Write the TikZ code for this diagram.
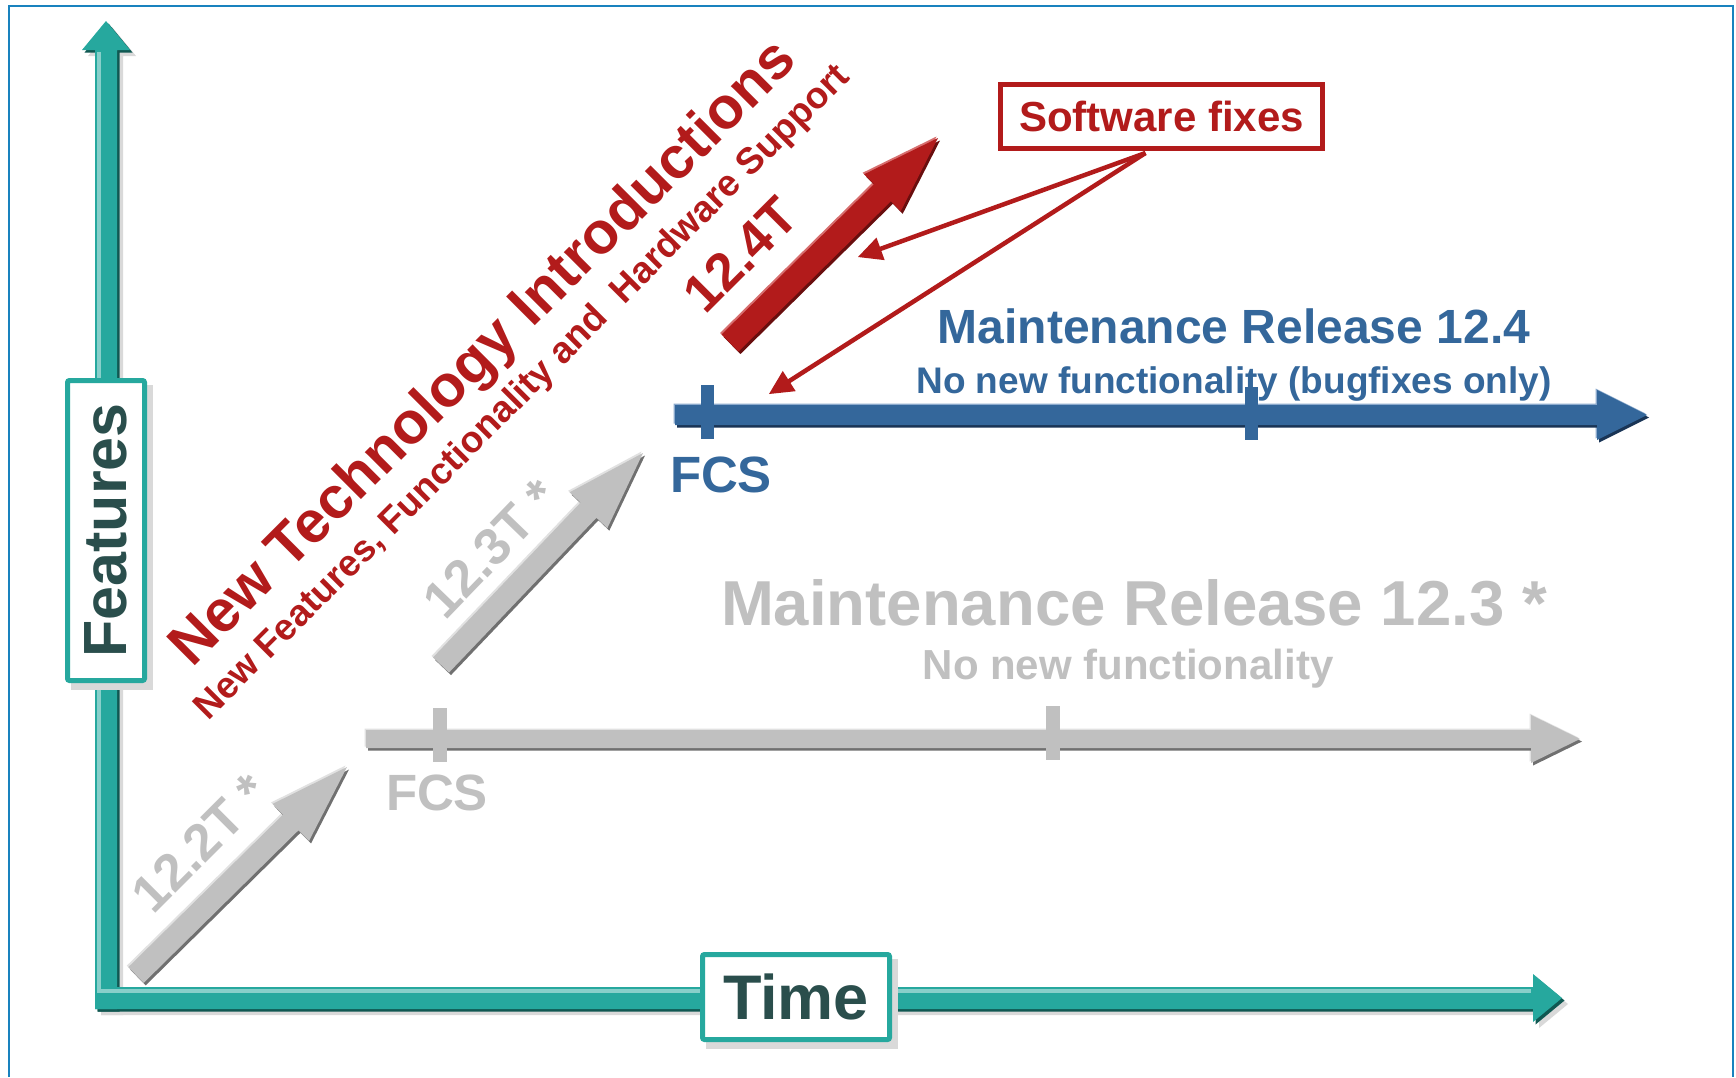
\documentclass[tikz,border=0pt]{standalone}
\usepackage{fontspec}
\setmainfont{Liberation Sans}
\usetikzlibrary{calc}
\definecolor{tealA}{RGB}{38,168,158}
\definecolor{tealD}{RGB}{16,88,82}
\definecolor{tealT}{RGB}{42,78,76}
\definecolor{redA}{RGB}{178,27,27}
\definecolor{redL}{RGB}{215,110,110}
\definecolor{redD}{RGB}{105,14,14}
\definecolor{blueA}{RGB}{52,103,155}
\definecolor{blueL}{RGB}{140,170,205}
\definecolor{blueD}{RGB}{25,52,85}
\definecolor{grayA}{RGB}{192,192,192}
\definecolor{grayL}{RGB}{225,225,225}
\definecolor{grayD}{RGB}{112,112,112}
\definecolor{frameC}{RGB}{25,130,190}
\newcommand\fsz[1]{\fontsize{#1}{#1}\selectfont}
% polygon arrow: tail, tip, shaft half width, head half width, head length, fill options
\newcommand\fatpoly[6]{%
  \coordinate (fpH) at ($(#2)!#5!(#1)$);
  \fill[#6] ($(#1)!#3!90:(#2)$) -- ($(fpH)!#3!90:(#2)$) -- ($(fpH)!#4!90:(#2)$) -- (#2)
    -- ($(fpH)!#4!-90:(#2)$) -- ($(fpH)!#3!-90:(#2)$) -- ($(#1)!#3!-90:(#2)$) -- cycle;}
% shaded arrow: tail, tip, shaft half, head half, head length, main, light, dark
\newcommand\fatarr[8]{%
  \coordinate (faLa) at ([shift={(-1.5,-1.5)}]#1);
  \coordinate (faLb) at ([shift={(-1.5,-1.5)}]#2);
  \coordinate (faDa) at ([shift={(2,2.5)}]#1);
  \coordinate (faDb) at ([shift={(2,2.5)}]#2);
  \fatpoly{faLa}{faLb}{#3}{#4}{#5}{#7}
  \fatpoly{faDa}{faDb}{#3}{#4}{#5}{#8}
  \fatpoly{#1}{#2}{#3}{#4}{#5}{#6}}
\tikzset{
  lbl/.style={inner sep=0pt, font=\bfseries},
  axisbox/.style={draw=tealA, line width=5pt, fill=white, rounded corners=2pt, inner sep=0pt, text=tealT},
  swbox/.style={draw=redA, line width=5pt, fill=white, inner sep=0pt, text=redA},
  fixarrow/.style={redA, line width=4.5pt, shorten >=20pt},
  fixhead/.style={fill=redA},
}
\begin{document}
\begin{tikzpicture}[x=1pt,y=-1pt]
\useasboundingbox (0,0) rectangle (1736,1077);
\fill[white] (0,0) rectangle (1736,1077);
\draw[frameC, line width=2pt] (9,1077) -- (9,6) -- (1733,6) -- (1733,1077);

% ---------- axes ----------
\coordinate (ftail) at (106,1009);
\coordinate (ftip) at (106,21);
\coordinate (ttail) at (95,998);
\coordinate (ttip) at (1562,998);
\coordinate (fsa) at ([shift={(6,6)}]ftail);
\coordinate (fsb) at ([shift={(6,6)}]ftip);
\coordinate (tsa) at ([shift={(6,6)}]ttail);
\coordinate (tsb) at ([shift={(6,6)}]ttip);
\fatpoly{fsa}{fsb}{11pt}{24pt}{29pt}{black!15}
\fatpoly{tsa}{tsb}{11pt}{24pt}{29pt}{black!15}
\coordinate (fda) at ([shift={(2.5,2.5)}]ftail);
\coordinate (fdb) at ([shift={(2.5,2.5)}]ftip);
\coordinate (tda) at ([shift={(2.5,2.5)}]ttail);
\coordinate (tdb) at ([shift={(2.5,2.5)}]ttip);
\fatpoly{fda}{fdb}{11pt}{24pt}{29pt}{tealD}
\fatpoly{tda}{tdb}{11pt}{24pt}{29pt}{tealD}
\fatpoly{ftail}{ftip}{11pt}{24pt}{29pt}{tealA}
\fatpoly{ttail}{ttip}{11pt}{24pt}{29pt}{tealA}
\draw[tealA!55!white, line width=3.5pt] (99,52) -- (99,991) -- (1531,991);

% axis boxes
\fill[black!15] (71,385) rectangle (153,690);
\node[axisbox, rotate=90, minimum width=300pt, minimum height=77pt, font=\bfseries\fsz{61}] (feat) at (106,530.5) {Features};
\fill[black!15] (706,959) rectangle (898,1049);
\node[axisbox, minimum width=187pt, minimum height=85pt, font=\bfseries\fsz{63}] (time) at (796,997) {Time};

% ---------- gray 12.3 release ----------
\coordinate (g0) at (366,739);
\coordinate (g1) at (1580,739);
\fatarr{g0}{g1}{9pt}{24pt}{49pt}{grayA}{grayL}{grayD}
\coordinate (gt1a) at (440,708); \coordinate (gt1b) at (440,762);
\coordinate (gt2a) at (1053,706); \coordinate (gt2b) at (1053,760);
\draw[grayA, line width=14pt] (gt1a) -- (gt1b);
\draw[grayA, line width=14pt] (gt2a) -- (gt2b);
\node[lbl, anchor=base, text=grayA, font=\bfseries\fsz{51}] (gfcs) at (437,810) {FCS};
\node[lbl, anchor=base, text=grayA, font=\bfseries\fsz{63.5}] (mr123) at (1134,625) {Maintenance Release 12.3 *};
\node[lbl, anchor=base, text=grayA, font=\bfseries\fsz{42}] (nnf3) at (1128,679) {No new functionality};

% ---------- gray diagonal arrows ----------
\coordinate (a22s) at (136,975);
\coordinate (a22e) at (347,767);
\fatarr{a22s}{a22e}{11pt}{26pt}{79pt}{grayA}{grayL}{grayD}
\coordinate (a23s) at (441,665);
\coordinate (a23e) at (643,453);
\fatarr{a23s}{a23e}{11pt}{26pt}{79pt}{grayA}{grayL}{grayD}
\node[lbl, rotate=45, text=grayA, font=\bfseries\fsz{52}] (v122) at (200,843) {12.2T *};
\node[lbl, rotate=46, text=grayA, font=\bfseries\fsz{52}] (v123) at (491,549) {12.3T *};

% ---------- blue 12.4 release ----------
\node[lbl, anchor=base, text=blueA, font=\bfseries\fsz{48}] (mr124) at (1234,343) {Maintenance Release 12.4};
\node[lbl, anchor=base, text=blueA, font=\bfseries\fsz{37}] (nnf4) at (1234,393) {No new functionality (bugfixes only)};
\coordinate (b0) at (675,415);
\coordinate (b1) at (1647,415);
\fatarr{b0}{b1}{10pt}{25pt}{50pt}{blueA}{blueL}{blueD}
\coordinate (bt1a) at (707,385); \coordinate (bt1b) at (707,439);
\coordinate (bt2a) at (1251,387); \coordinate (bt2b) at (1251,440);
\draw[blueA, line width=13pt] (bt1a) -- (bt1b);
\draw[blueA, line width=13pt] (bt2a) -- (bt2b);
\node[lbl, anchor=base, text=blueA, font=\bfseries\fsz{51}] (bfcs) at (721,492) {FCS};

% ---------- red 12.4T ----------
\coordinate (a24s) at (730,343);
\coordinate (a24e) at (938,138);
\fatarr{a24s}{a24e}{12pt}{26pt}{78pt}{redA}{redL}{redD}
\node[lbl, rotate=45, text=redA, font=\bfseries\fsz{53}] (v124) at (740.5,254.7) {12.4T};
\node[lbl, rotate=45, text=redA, font=\bfseries\fsz{59}] (nti) at (485,355) {New Technology Introductions};
\node[lbl, rotate=45, text=redA, font=\bfseries\fsz{37}] (nff) at (523,393) {New Features, Functionality and\ \ Hardware Support};

% ---------- software fixes ----------
\node[swbox, minimum width=322pt, minimum height=64pt, font=\bfseries\fsz{42}] (sw) at (1161.5,116.5) {Software fixes};
\coordinate (swa) at ([xshift=-16pt, yshift=-2pt]sw.south);
\coordinate (fx1) at (858,257);
\coordinate (fx2) at (769,394);
\draw[fixarrow] (swa) -- (fx1);
\draw[fixarrow] (swa) -- (fx2);
\fatpoly{swa}{fx1}{0pt}{12pt}{24pt}{fixhead}
\fatpoly{swa}{fx2}{0pt}{12pt}{24pt}{fixhead}
\end{tikzpicture}
\end{document}
